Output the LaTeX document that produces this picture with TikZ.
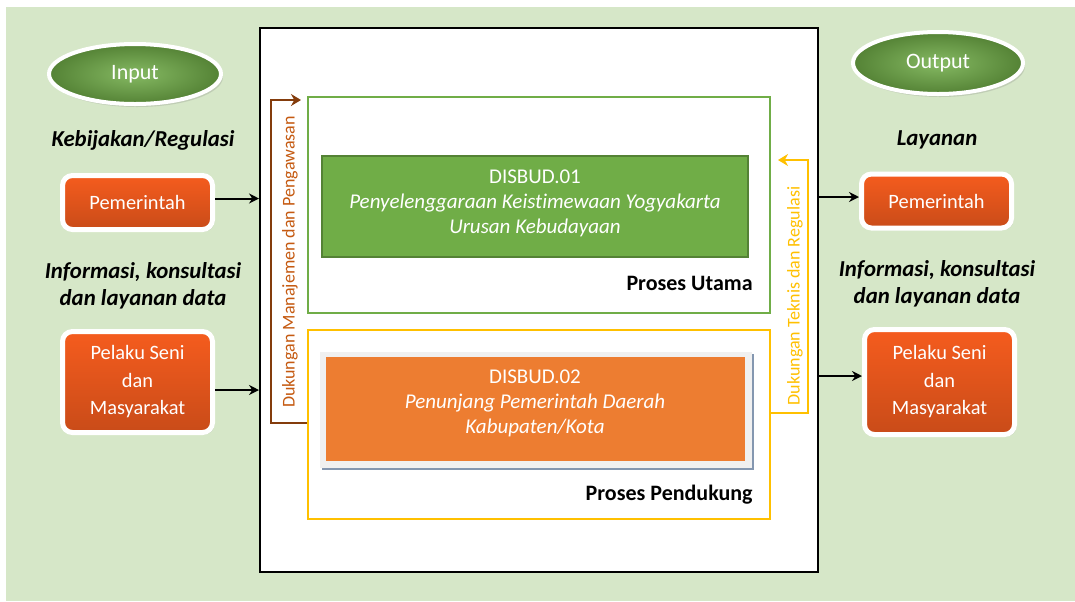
\documentclass[tikz,border=0pt]{standalone}
\usepackage{fontspec}
\setmainfont[Ligatures=NoCommon]{Carlito}
\usetikzlibrary{arrows.meta,shapes.geometric,shadows}

\definecolor{bggreen}{RGB}{214,231,200}
\definecolor{frgreen}{RGB}{112,173,71}
\definecolor{dkgreen}{RGB}{84,130,53}
\definecolor{gold}{RGB}{255,192,0}
\definecolor{boxorange}{RGB}{237,125,49}
\definecolor{btnorange}{RGB}{245,92,30}
\definecolor{shgray}{RGB}{132,151,176}
\definecolor{ltgray}{RGB}{240,240,240}
\definecolor{brownline}{RGB}{132,60,12}
\definecolor{browntext}{RGB}{197,90,17}

\tikzset{
  oval/.style={ellipse, draw=white, line width=2pt, inner color=frgreen!85!white,
    outer color=dkgreen, text=white, font=\fontsize{11}{12}\selectfont,
    drop shadow={opacity=0.25, shadow xshift=1pt, shadow yshift=-1.5pt}},
  button/.style={rectangle, rounded corners=5pt, draw=white, line width=2.5pt,
    top color=btnorange, middle color=btnorange, bottom color=btnorange!82!black,
    text=white, align=center, minimum width=75pt,
    font=\fontsize{10.2}{13.75}\selectfont,
    drop shadow={opacity=0.2, shadow xshift=1pt, shadow yshift=-1pt}},
  caption/.style={align=center, font=\fontsize{11.4}{13.5}\selectfont\bfseries\itshape},
  pbox/.style={rectangle, minimum width=231pt},
  ptext/.style={align=center, text=white, font=\fontsize{10.5}{12.5}\selectfont},
  plabel/.style={anchor=east, inner sep=0pt, font=\fontsize{11}{12}\selectfont\bfseries},
  side/.style={rotate=90, font=\fontsize{9}{10}\selectfont},
  link/.style={-{Stealth[length=5pt,width=5pt]}, line width=1pt}
}

\begin{document}
\begin{tikzpicture}[x=0.5pt, y=-0.5pt]
  \useasboundingbox (0,0) rectangle (1075,601);
  \fill[bggreen] (6,7) rectangle (1075,601);

  % kotak tengah
  \node[draw=black, line width=1pt, fill=white, minimum width=279pt, minimum height=272pt,
    drop shadow={opacity=0.3, shadow xshift=0.6pt, shadow yshift=-0.6pt}] (main) at (539,300) {};

  % proses utama
  \node[pbox, draw=frgreen, line width=1.25pt, minimum height=108pt] (utama) at (539,205) {};
  \node[draw=dkgreen, line width=0.8pt, fill=frgreen, minimum width=213pt, minimum height=50.5pt] (d01) at (535,206.5) {};
  \node[ptext] (t01) at (535,203) {DISBUD.01\\\textit{Penyelenggaraan Keistimewaan Yogyakarta}\\\textit{Urusan Kebudayaan}};
  \node[plabel] (lutama) at (753,283) {Proses Utama};

  % proses pendukung
  \node[pbox, draw=gold, line width=1.25pt, minimum height=94.5pt] (pend) at (539,424.5) {};
  \node[fill=shgray, minimum width=216pt, minimum height=58pt] (d02s) at (538,412) {};
  \node[fill=ltgray, minimum width=216pt, minimum height=58pt] (d02b) at (536,410) {};
  \node[fill=boxorange, minimum width=209.5pt, minimum height=52pt] (d02) at (535.5,409) {};
  \node[ptext] (t02) at (535,403) {DISBUD.02\\\textit{Penunjang Pemerintah Daerah}\\\textit{Kabupaten/Kota}};
  \node[plabel] (lpend) at (753,495) {Proses Pendukung};

  % dukungan manajemen
  \coordinate (mgtop) at (271,100);
  \draw[brownline, line width=1.2pt, -{Stealth[length=5pt,width=6pt]}]
    (pend.west |- 0,423) -| (mgtop) -- (301,100);
  \node[side, text=browntext] (lmg) at (290,262) {Dukungan Manajemen dan Pengawasan};

  % dukungan teknis
  \coordinate (tktop) at (808,160);
  \draw[gold, line width=1.2pt, -{Stealth[length=5pt,width=6pt]}]
    (pend.east |- 0,413) -| (tktop) -- (778,160);
  \node[side, text=gold] (ltk) at (795,296) {Dukungan Teknis dan Regulasi};

  % input
  \node[oval, minimum width=86pt, minimum height=30pt] (input) at (135,74) {Input};
  \node[caption] (kebij) at (143,140) {Kebijakan/Regulasi};
  \node[button, minimum height=27pt] (pemL) at (137.5,202.5) {Pemerintah};
  \node[caption] (infoL) at (143,285.5) {Informasi, konsultasi\\dan layanan data};
  \node[button, minimum height=50.5pt] (pelL) at (137.5,382) {Pelaku Seni\\dan\\Masyarakat};

  \draw[link] ([yshift=2pt]pemL.east) -- ([yshift=2pt]pemL.east -| main.west);
  \draw[link] ([yshift=-4pt]pelL.east) -- ([yshift=-4pt]pelL.east -| main.west);

  % output
  \node[oval, minimum width=85pt, minimum height=31pt] (output) at (938,63) {Output};
  \node[caption] (layan) at (937,140) {Layanan};
  \node[button, minimum height=27pt] (pemR) at (936.5,201) {Pemerintah};
  \node[caption] (infoR) at (937,283.5) {Informasi, konsultasi\\dan layanan data};
  \node[button, minimum height=52.5pt] (pelR) at (939.5,382) {Pelaku Seni\\dan\\Masyarakat};

  \draw[link] ([yshift=2pt]main.east |- pemR.west) -- ([yshift=2pt]pemR.west);
  \draw[link] ([yshift=3pt]main.east |- pelR.west) -- ([yshift=3pt]pelR.west);
\end{tikzpicture}
\end{document}
